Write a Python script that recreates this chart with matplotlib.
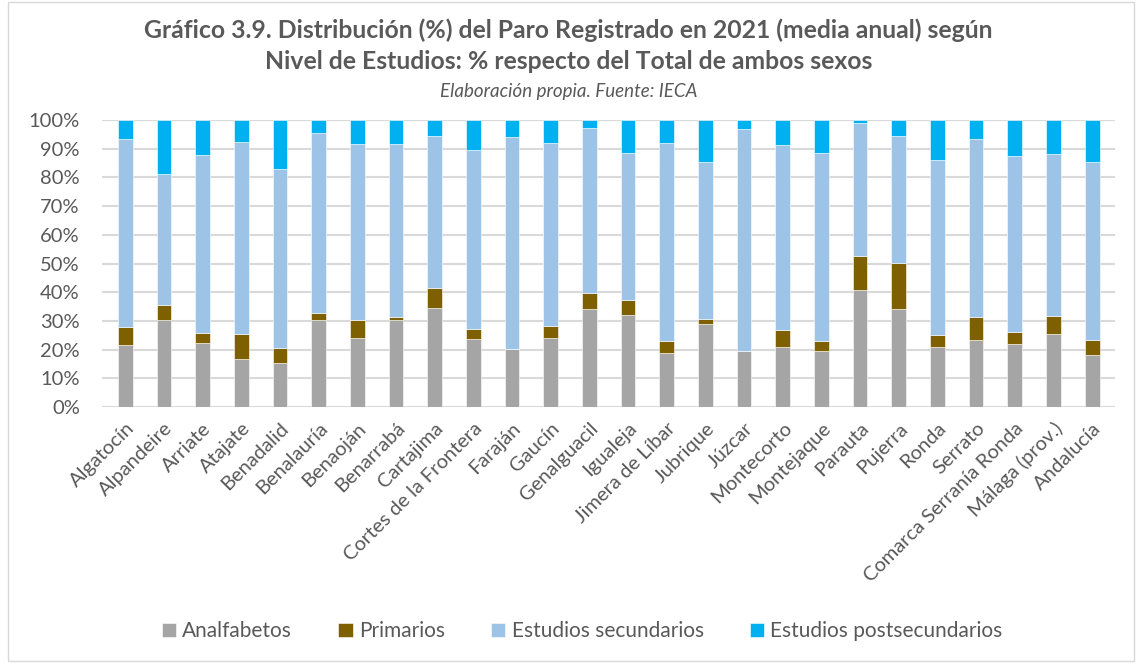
import numpy as np
import matplotlib.pyplot as plt
from matplotlib.patches import Rectangle
from matplotlib.ticker import PercentFormatter

plt.rcParams['font.family'] = ['Lato', 'DejaVu Sans']

municipios = ["Algatocín", "Alpandeire", "Arriate", "Atajate", "Benadalid",
              "Benalauría", "Benaoján", "Benarrabá", "Cartajima",
              "Cortes de la Frontera", "Faraján", "Gaucín", "Genalguacil",
              "Igualeja", "Jimera de Líbar", "Jubrique", "Júzcar", "Montecorto",
              "Montejaque", "Parauta", "Pujerra", "Ronda", "Serrato",
              "Comarca Serranía Ronda", "Málaga (prov.)", "Andalucía"]

# porcentajes
analfabetos = [21.7, 30.4, 22.2, 16.9, 15.4, 30.2, 23.9, 30.3, 34.6,
               23.8, 20.1, 24.2, 34.3, 32.1, 18.8, 29.1, 19.7, 20.9,
               19.5, 40.8, 34.0, 21.0, 23.3, 21.9, 25.5, 18.2]
primarios = [6.1, 5.3, 3.7, 8.7, 5.2, 2.7, 6.5, 1.1, 6.8,
             3.3, 0.0, 4.1, 5.6, 5.3, 4.2, 1.6, 0.0, 6.0,
             3.4, 11.9, 16.2, 4.2, 8.1, 4.3, 6.1, 5.1]
secundarios = [65.5, 45.6, 62.0, 66.7, 62.3, 62.7, 61.4, 60.4, 53.0,
               62.5, 73.9, 63.7, 57.3, 51.0, 69.0, 54.5, 77.3, 64.5,
               65.5, 46.4, 44.3, 60.9, 62.0, 61.3, 56.6, 62.1]
postsecundarios = [6.7, 18.7, 12.1, 7.7, 17.1, 4.4, 8.2, 8.2, 5.6,
                   10.4, 6.0, 8.0, 2.8, 11.6, 8.0, 14.8, 3.0, 8.6,
                   11.6, 0.9, 5.5, 13.9, 6.6, 12.5, 11.8, 14.6]

series = [("Analfabetos", analfabetos, "#A5A5A5"),
          ("Primarios", primarios, "#7F6000"),
          ("Estudios secundarios", secundarios, "#9DC3E6"),
          ("Estudios postsecundarios", postsecundarios, "#00B0F0")]

texto = "#595959"

fig = plt.figure(figsize=(11.37, 6.63), dpi=100)
ax = fig.add_axes([0.0897, 0.386, 0.8913, 0.433])

x = np.arange(len(municipios))
base = np.zeros(len(municipios))
for nombre, vals, color in series:
    vals = np.array(vals)
    ax.bar(x, vals, 0.38, bottom=base, color=color, label=nombre,
           edgecolor="white", linewidth=0.4, zorder=3)
    base += vals

ax.set_ylim(0, 100)
ax.set_xlim(-0.6, len(municipios) - 0.4)
ax.set_yticks(np.arange(0, 101, 10))
ax.yaxis.set_major_formatter(PercentFormatter(decimals=0))
ax.grid(axis="y", color="#D9D9D9", linewidth=1.5, zorder=0)
for s in ax.spines.values():
    s.set_visible(False)
ax.tick_params(length=0, colors=texto)
ax.tick_params(axis="y", pad=16, labelsize=14.5)
ax.tick_params(axis="x", pad=9)
ax.set_xticks(x)
ax.set_xticklabels(municipios, rotation=45, ha="right", rotation_mode="anchor",
                   fontsize=14.5)

fig.text(0.5, 0.955, "Gráfico 3.9. Distribución (%) del Paro Registrado en 2021 (media anual) según",
         ha="center", va="center", fontsize=17.8, fontweight="bold", color=texto)
fig.text(0.5, 0.907, "Nivel de Estudios: % respecto del Total de ambos sexos",
         ha="center", va="center", fontsize=17.8, fontweight="bold", color=texto)
fig.text(0.5, 0.862, "Elaboración propia. Fuente: IECA",
         ha="center", va="center", fontsize=13.5, style="italic", color=texto)

fig.legend(loc="center", bbox_to_anchor=(0.512, 0.048), ncol=4, frameon=False,
           fontsize=15, labelcolor=texto, handlelength=0.7, handleheight=0.7,
           handletextpad=0.3, columnspacing=2.2)

fig.patches.append(Rectangle((0.007, 0.003), 0.99, 0.994, transform=fig.transFigure,
                             fill=False, edgecolor="#D9D9D9", linewidth=1))

fig.savefig("out.png", dpi=100, facecolor="white")
